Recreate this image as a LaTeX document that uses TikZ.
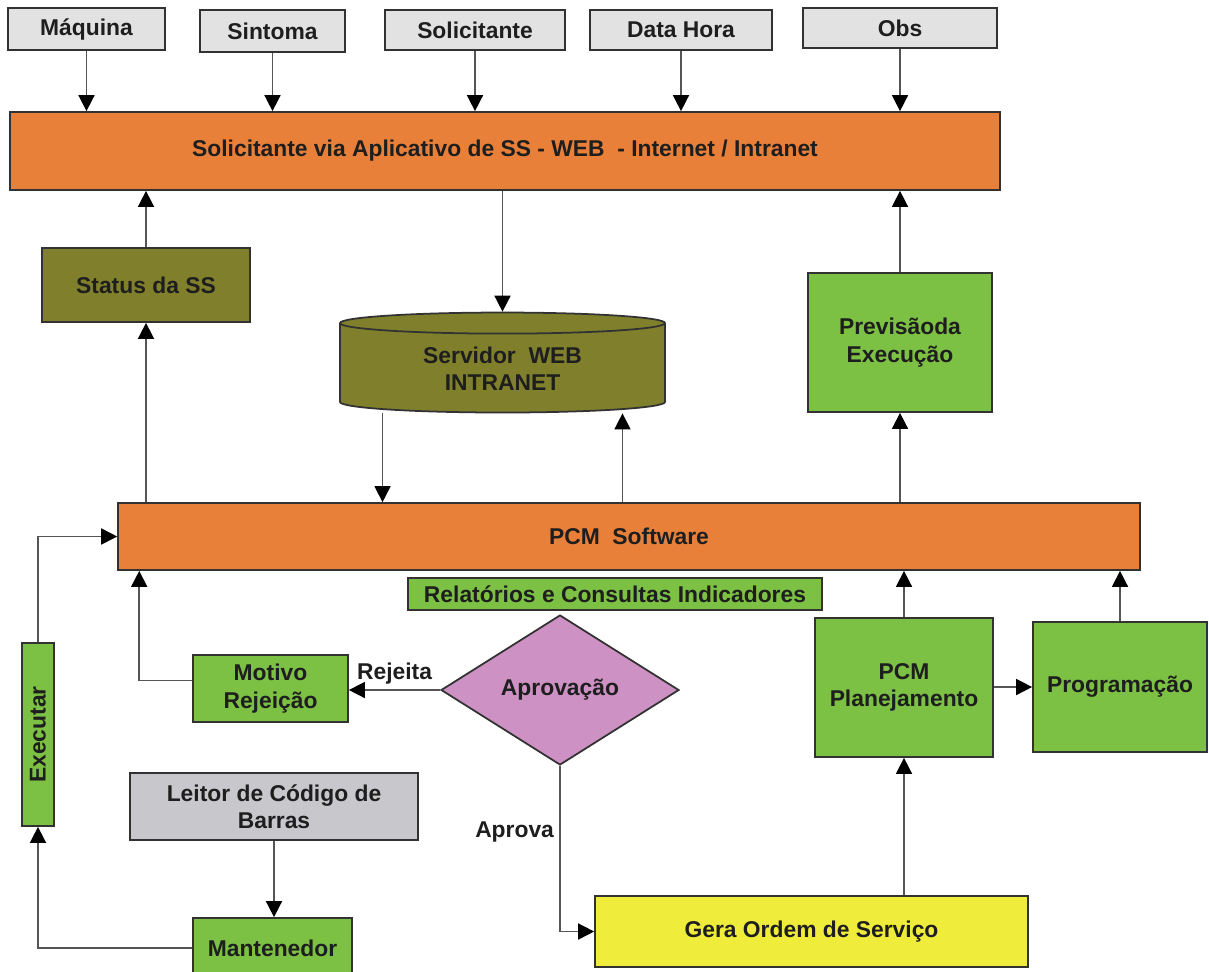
\documentclass[tikz,border=0pt]{standalone}
\usepackage{fontspec}
\setmainfont{Liberation Sans}
\usetikzlibrary{positioning}
\usetikzlibrary{shapes.geometric, arrows.meta}

\definecolor{cLaranja}{RGB}{233,128,58}
\definecolor{cOliva}{RGB}{128,128,44}
\definecolor{cVerde}{RGB}{124,192,68}
\definecolor{cCinzaClaro}{RGB}{226,226,226}
\definecolor{cCinza}{RGB}{200,200,204}
\definecolor{cRosa}{RGB}{205,145,196}
\definecolor{cAmarelo}{RGB}{240,236,60}
\definecolor{cBorda}{RGB}{50,50,50}
\definecolor{cLinha}{RGB}{85,85,85}
\definecolor{cTexto}{RGB}{30,30,30}

\tikzset{
  caixa/.style={draw=cBorda,line width=1pt,font=\bfseries\fontsize{13}{15.5}\selectfont,
    text=cTexto,align=center,inner sep=1pt},
  entrada/.style={caixa,rectangle,fill=cCinzaClaro},
  barra/.style={caixa,rectangle,fill=cLaranja},
  caixaverde/.style={caixa,rectangle,fill=cVerde},
  caixaoliva/.style={caixa,fill=cOliva},
  seta/.style={draw=cLinha,line width=0.9pt,-{Triangle[length=0.32cm,width=0.32cm,color=black]}},
  rotulo/.style={font=\bfseries\fontsize{13}{15.5}\selectfont,text=cTexto,inner sep=1pt}
}

\begin{document}
\begin{tikzpicture}[x=0.02cm,y=-0.02cm]
\useasboundingbox[fill=white] (0,0) rectangle (1209,971);

\node[entrada,minimum width=3.14cm,minimum height=0.84cm] (maq) at (86.5,29) {Máquina};
\node[entrada,minimum width=2.9cm,minimum height=0.84cm] (sint) at (272.5,31) {Sintoma};
\node[entrada,minimum width=3.6cm,minimum height=0.8cm] (solic) at (475,30) {Solicitante};
\node[entrada,minimum width=3.64cm,minimum height=0.8cm] (datah) at (681,30) {Data Hora};
\node[entrada,minimum width=3.88cm,minimum height=0.8cm] (obs) at (900,28) {Obs};

\node[barra,minimum width=19.8cm,minimum height=1.56cm] (web) at (505,151)
  {Solicitante via Aplicativo de SS - WEB~~- Internet / Intranet};

\node[caixaoliva,rectangle,minimum width=4.16cm,minimum height=1.48cm] (status) at (146,285) {Status da SS};
\node[caixaoliva,cylinder,shape border rotate=90,aspect=0.13,minimum width=6.5cm,minimum height=2cm]
  (srv) at (502.5,369) {Servidor~~WEB\\INTRANET};
\node[caixaverde,minimum width=3.68cm,minimum height=2.78cm] (prev) at (900,342.5) {Previsãoda\\Execução};

\node[barra,minimum width=20.44cm,minimum height=1.34cm] (pcm) at (629,536.5) {PCM~~Software};
\node[caixaverde,minimum width=8.28cm,minimum height=0.64cm] (rel) at (615,594) {Relatórios e Consultas Indicadores};

\node[caixa,diamond,fill=cRosa,inner sep=0pt,minimum width=4.76cm,minimum height=3cm] (aprov) at (560,690) {Aprovação};
\node[caixaverde,minimum width=3.1cm,minimum height=1.34cm] (motivo) at (270.5,688.5) {Motivo\\Rejeição};
\node[caixaverde,minimum width=0.64cm,minimum height=3.66cm] (exec) at (38,734.5) {\rotatebox{90}{Executar}};
\node[caixa,rectangle,fill=cCinza,minimum width=5.76cm,minimum height=1.34cm] (leitor) at (274,806.5) {Leitor de Código de\\Barras};
\node[caixaverde,minimum width=3.18cm,minimum height=1.2cm] (mant) at (272.5,948) {Mantenedor};

\node[caixa,rectangle,fill=cAmarelo,minimum width=8.66cm,minimum height=1.42cm] (gera) at (811.5,931.5) {Gera Ordem de Serviço};
\node[caixaverde,minimum width=3.56cm,minimum height=2.78cm] (plan) at (904,687.5) {PCM\\Planejamento};
\node[caixaverde,minimum width=3.48cm,minimum height=2.6cm] (prog) at (1120,687) {Programação};

\foreach \e in {maq,sint,solic,datah,obs}
  \draw[seta] (\e.south) -- (\e.south |- web.north);

\draw[seta] (status.north) -- (status.north |- web.south);
\draw[seta] (web.south -| srv.north) -- (srv.north);
\draw[seta] (prev.north) -- (prev.north |- web.south);

\draw[seta] (pcm.north -| status.south) -- (status.south);
\draw[seta] ([xshift=-2.4cm]srv.south) -- ([xshift=-2.4cm]srv.south |- pcm.north);
\draw[seta] ([xshift=2.4cm]srv.south |- pcm.north) -- ([xshift=2.4cm]srv.south);
\draw[seta] (pcm.north -| prev.south) -- (prev.south);

\draw[seta] (plan.north) -- (plan.north |- pcm.south);
\draw[seta] (prog.north) -- (prog.north |- pcm.south);
\draw[seta] (plan.east |- prog.west) -- (prog.west);
\draw[seta] (gera.north -| plan.south) -- (plan.south);

\draw[seta] (aprov.west) -- node[rotulo,above=2pt] {Rejeita} (aprov.west -| motivo.east);
\draw[seta] ([yshift=0.16cm]motivo.west) -| ([xshift=0.44cm]pcm.south west);
\draw[seta] (exec.north) |- (pcm.west);
\draw[seta] (mant.west) -| (exec.south);
\draw[seta] (leitor.south) -- (leitor.south |- mant.north);
\draw[seta] (aprov.south) |- node[rotulo,pos=0.2,left=2pt] {Aprova} (gera.west);

\end{tikzpicture}
\end{document}
